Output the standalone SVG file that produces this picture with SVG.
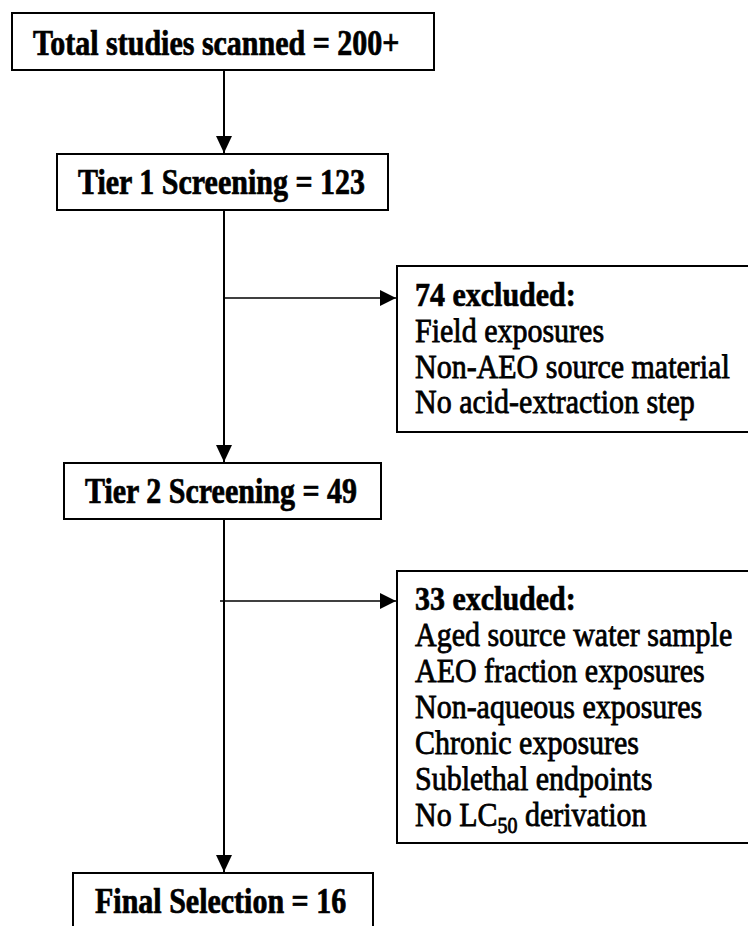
<svg xmlns="http://www.w3.org/2000/svg" width="748" height="926" viewBox="0 0 748 926">
<style>
.box{fill:#fff;stroke:#000;stroke-width:2}
.h{font-family:"Liberation Serif","DejaVu Serif","Times New Roman",serif;font-weight:bold;font-size:30px;fill:#000;stroke:#000;stroke-width:0.6}
.t{font-family:"Liberation Serif","DejaVu Serif","Times New Roman",serif;font-size:30px;fill:#000;stroke:#000;stroke-width:0.7}
.v{stroke:#000;stroke-width:2;fill:none}
.hz{stroke:#000;stroke-width:1.3;fill:none}
</style>
<defs>
<marker id="ad" markerUnits="userSpaceOnUse" markerWidth="16" markerHeight="17" refX="8" refY="17" viewBox="0 0 16 17" orient="0">
<path d="M0,0 L16,0 L8,17 Z" fill="#000"/>
</marker>
<marker id="ar" markerUnits="userSpaceOnUse" markerWidth="16" markerHeight="16" refX="16" refY="8" viewBox="0 0 16 16" orient="0">
<path d="M0,0 L16,8 L0,16 Z" fill="#000"/>
</marker>
</defs>
<g id="connectors">
<line class="v" x1="224" y1="70" x2="224" y2="153" marker-end="url(#ad)"/>
<line class="v" x1="224" y1="210" x2="224" y2="462" marker-end="url(#ad)"/>
<line class="v" x1="224" y1="519" x2="224" y2="872" marker-end="url(#ad)"/>
<line class="hz" x1="224" y1="298" x2="396" y2="298" marker-end="url(#ar)"/>
<line class="hz" x1="220" y1="601" x2="396" y2="601" marker-end="url(#ar)"/>
</g>
<g id="total">
<rect class="box" x="12" y="13" width="422" height="57"/>
<text class="h" transform="translate(33,55) scale(1,1.2)">Total studies scanned = 200+</text>
</g>
<g id="tier1">
<rect class="box" x="57" y="154" width="331" height="56"/>
<text class="h" transform="translate(78,194) scale(1,1.2)">Tier 1 Screening = 123</text>
</g>
<g id="excluded1">
<rect class="box" x="397" y="266" width="360" height="166"/>
<text class="h" transform="translate(415,306) scale(1,1.15)">74 excluded:</text>
<text class="t" transform="translate(415,342) scale(1,1.15)">Field exposures</text>
<text class="t" transform="translate(415,378) scale(1,1.15)">Non-AEO source material</text>
<text class="t" transform="translate(415,413) scale(1,1.15)">No acid-extraction step</text>
</g>
<g id="tier2">
<rect class="box" x="64" y="463" width="317" height="56"/>
<text class="h" transform="translate(85,503) scale(1,1.2)">Tier 2 Screening = 49</text>
</g>
<g id="excluded2">
<rect class="box" x="397" y="571" width="360" height="272"/>
<text class="h" transform="translate(415,610) scale(1,1.15)">33 excluded:</text>
<text class="t" transform="translate(415,646) scale(1,1.15)">Aged source water sample</text>
<text class="t" transform="translate(415,682) scale(1,1.15)">AEO fraction exposures</text>
<text class="t" transform="translate(415,718) scale(1,1.15)">Non-aqueous exposures</text>
<text class="t" transform="translate(415,754) scale(1,1.15)">Chronic exposures</text>
<text class="t" transform="translate(415,790) scale(1,1.15)">Sublethal endpoints</text>
<text class="t" transform="translate(415,826) scale(1,1.15)">No LC<tspan font-size="20" dy="6">50</tspan><tspan dy="-6"> derivation</tspan></text>
</g>
<g id="final">
<rect class="box" x="73" y="873" width="300" height="60"/>
<text class="h" transform="translate(95,913) scale(1,1.2)">Final Selection = 16</text>
</g>
</svg>
